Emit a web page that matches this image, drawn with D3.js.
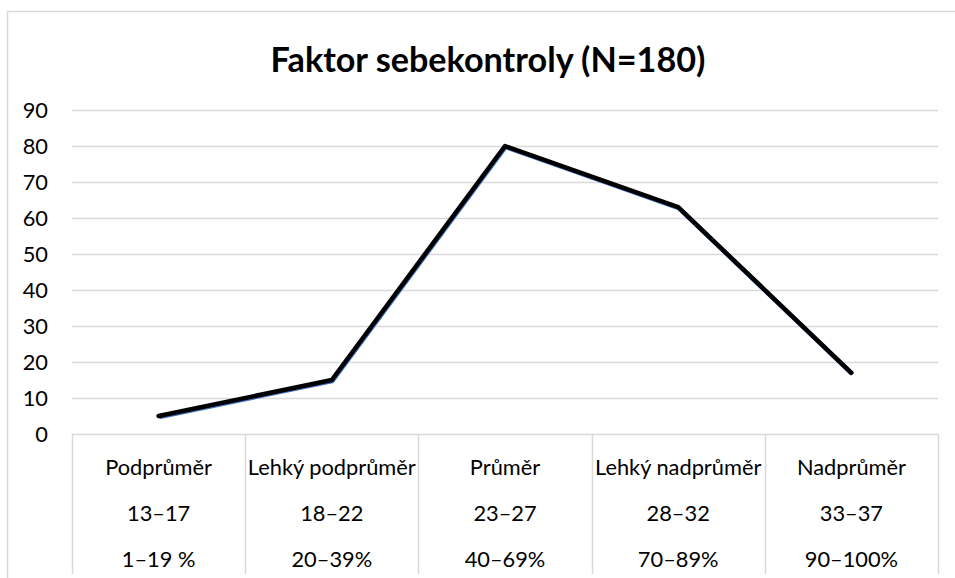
<!DOCTYPE html>
<html lang="cs">
<head>
  <meta charset="UTF-8" />
  <title>Faktor sebekontroly</title>
  <script src="https://cdnjs.cloudflare.com/ajax/libs/d3/7.8.2/d3.min.js"></script>
  <style>
    body { margin: 0; padding: 0; background: #fff; }
    svg { display: block; font-family: Lato, "Open Sans", sans-serif; }
  </style>
</head>
<body>
<svg id="chart" width="955" height="578"></svg>
<script>
// ---- data ----
const title = "Faktor sebekontroly (N=180)";
const categories = ["Podprůměr", "Lehký podprůměr", "Průměr", "Lehký nadprůměr", "Nadprůměr"];
const scoreRanges = ["13–17", "18–22", "23–27", "28–32", "33–37"];
const percentRanges = ["1–19 %", "20–39%", "40–69%", "70–89%", "90–100%"];
const counts = [5, 15, 80, 63, 17];
const yTicks = [0, 10, 20, 30, 40, 50, 60, 70, 80, 90];

// ---- setup ----
const svg = d3.select("#chart");
const grid = "#d9d9d9";

// outer chart frame (right/bottom edges fall outside the picture)
svg.append("rect")
  .attr("x", 7.5).attr("y", 11.5)
  .attr("width", 1000).attr("height", 1000)
  .attr("fill", "#fff").attr("stroke", grid).attr("stroke-width", 1.5);

const x = d3.scaleBand().domain(categories).range([72, 938]).padding(0);
const y = d3.scaleLinear().domain([0, 90]).range([434, 110]);

// horizontal gridlines
svg.append("g").selectAll("line")
  .data(yTicks)
  .join("line")
  .attr("x1", 72).attr("x2", 938)
  .attr("y1", d => Math.round(y(d)) + 0.5)
  .attr("y2", d => Math.round(y(d)) + 0.5)
  .attr("stroke", grid).attr("stroke-width", 1.5);

// category separators below the axis
const edges = categories.map(c => x(c)).concat([x.range()[1]]);
svg.append("g").selectAll("line")
  .data(edges)
  .join("line")
  .attr("x1", d => Math.round(d) + 0.5).attr("x2", d => Math.round(d) + 0.5)
  .attr("y1", y(0)).attr("y2", 574)
  .attr("stroke", grid).attr("stroke-width", 1.5);

// y tick labels
const yLab = svg.append("g").selectAll("text")
  .data(yTicks)
  .join("text")
  .attr("x", 48)
  .attr("y", d => y(d))
  .attr("dy", "0.35em")
  .attr("text-anchor", "end")
  .attr("fill", "#000")
  .text(d => d);

// category label rows
const rows = [categories, scoreRanges, percentRanges];
const rowY = [467, 513, 559];
const catG = svg.append("g");
rows.forEach((labels, i) => {
  catG.selectAll(".row" + i)
    .data(labels)
    .join("text")
    .attr("class", "row" + i)
    .attr("x", (d, j) => x(categories[j]) + x.bandwidth() / 2)
    .attr("y", rowY[i])
    .attr("dy", "0.35em")
    .attr("text-anchor", "middle")
    .attr("fill", "#000")
    .text(d => d);
});

// fit label font so "Lehký podprůměr" nearly fills its band
const probe = svg.append("text").text(categories[1]).style("font-size", "20px");
const labelSize = 20 * 168 / probe.node().getComputedTextLength();
probe.remove();
catG.selectAll("text").style("font-size", labelSize + "px");
yLab.style("font-size", labelSize + "px");

// title
const titleEl = svg.append("text")
  .attr("x", 488).attr("y", 60)
  .attr("dy", "0.35em")
  .attr("text-anchor", "middle")
  .attr("font-weight", "bold")
  .attr("fill", "#000")
  .style("font-size", "30px")
  .text(title);
const tw = titleEl.node().getComputedTextLength();
titleEl.style("font-size", (30 * 435 / tw) + "px");

// the series line (thin blue edge under a thick black stroke)
const line = d3.line()
  .x((d, i) => x(categories[i]) + x.bandwidth() / 2)
  .y(d => y(d));

svg.append("path")
  .datum(counts)
  .attr("d", line)
  .attr("transform", "translate(0.6,1)")
  .attr("fill", "none")
  .attr("stroke", "#4472c4")
  .attr("stroke-width", 4.5)
  .attr("stroke-linejoin", "round");

svg.append("path")
  .datum(counts)
  .attr("d", line)
  .attr("fill", "none")
  .attr("stroke", "#000")
  .attr("stroke-width", 4.5)
  .attr("stroke-linejoin", "round")
  .attr("stroke-linecap", "round");
</script>
</body>
</html>
